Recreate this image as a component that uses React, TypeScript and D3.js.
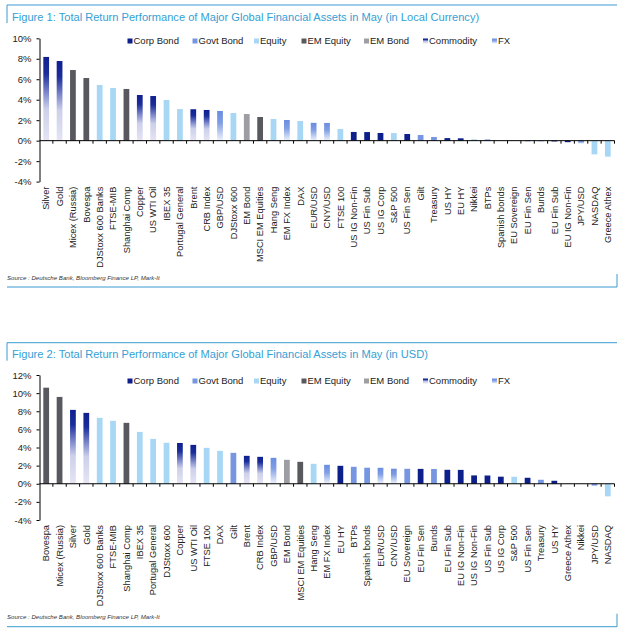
import { useEffect, useRef } from "react";
import * as d3 from "d3";

const legendItems = ["Corp Bond", "Govt Bond", "Equity", "EM Equity", "EM Bond", "Commodity", "FX"];

const fig1Title = "Figure 1: Total Return Performance of Major Global Financial Assets in May (in Local Currency)";
const fig1Names = [
  "Silver", "Gold", "Micex (Russia)", "Bovespa", "DJStoxx 600 Banks", "FTSE-MIB", "Shanghai Comp",
  "Copper", "US WTI Oil", "IBEX 35", "Portugal General", "Brent", "CRB Index", "GBP/USD",
  "DJStoxx 600", "EM Bond", "MSCI EM Equities", "Hang Seng", "EM FX Index", "DAX", "EUR/USD",
  "CNY/USD", "FTSE 100", "US IG Non-Fin", "US Fin Sub", "US IG Corp", "S&P 500", "US Fin Sen",
  "Gilt", "Treasury", "US HY", "EU HY", "Nikkei", "BTPs", "Spanish bonds", "EU Sovereign",
  "EU Fin Sen", "Bunds", "EU Fin Sub", "EU IG Non-Fin", "JPY/USD", "NASDAQ", "Greece Athex",
];
const fig1Values = [
  8.18, 7.78, 6.9, 6.12, 5.44, 5.15, 5.05,
  4.46, 4.36, 3.97, 3.09, 3.07, 3.0, 2.9,
  2.7, 2.6, 2.31, 2.12, 2.02, 1.92, 1.74,
  1.73, 1.14, 0.85, 0.84, 0.75, 0.74, 0.65,
  0.55, 0.36, 0.25, 0.23, 0.13, 0.12, 0.02, -0.02,
  -0.05, -0.06, -0.08, -0.15, -0.3, -1.34, -1.56,
];
const fig1Classes = [
  "Commodity", "Commodity", "EM Equity", "EM Equity", "Equity", "Equity", "EM Equity",
  "Commodity", "Commodity", "Equity", "Equity", "Commodity", "Commodity", "FX",
  "Equity", "EM Bond", "EM Equity", "Equity", "FX", "Equity", "FX",
  "FX", "Equity", "Corp Bond", "Corp Bond", "Corp Bond", "Equity", "Corp Bond",
  "Govt Bond", "Govt Bond", "Corp Bond", "Corp Bond", "Equity", "Govt Bond", "Govt Bond", "Govt Bond",
  "Corp Bond", "Govt Bond", "Corp Bond", "Corp Bond", "FX", "Equity", "Equity",
];
const fig1Ticks = [10, 8, 6, 4, 2, 0, -2, -4];

const fig2Title = "Figure 2: Total Return Performance of Major Global Financial Assets in May (in USD)";
const fig2Names = [
  "Bovespa", "Micex (Russia)", "Silver", "Gold", "DJStoxx 600 Banks", "FTSE-MIB", "Shanghai Comp",
  "IBEX 35", "Portugal General", "DJStoxx 600", "Copper", "US WTI Oil", "FTSE 100", "DAX",
  "Gilt", "Brent", "CRB Index", "GBP/USD", "EM Bond", "MSCI EM Equities", "Hang Seng",
  "EM FX Index", "EU HY", "BTPs", "Spanish bonds", "EUR/USD", "CNY/USD", "EU Sovereign",
  "EU Fin Sen", "Bunds", "EU Fin Sub", "EU IG Non-Fin", "US IG Non-Fin", "US Fin Sub", "US IG Corp",
  "S&P 500", "US Fin Sen", "Treasury", "US HY", "Greece Athex", "Nikkei", "JPY/USD", "NASDAQ",
];
const fig2Values = [
  10.6, 9.58, 8.15, 7.82, 7.27, 6.94, 6.72,
  5.72, 4.95, 4.52, 4.5, 4.29, 3.96, 3.63,
  3.41, 3.08, 2.97, 2.86, 2.64, 2.42, 2.2,
  2.09, 1.98, 1.87, 1.77, 1.76, 1.66, 1.65,
  1.64, 1.63, 1.54, 1.53, 0.92, 0.91, 0.78,
  0.77, 0.66, 0.44, 0.33, 0.03, -0.02, -0.29, -1.39,
];
const fig2Classes = [
  "EM Equity", "EM Equity", "Commodity", "Commodity", "Equity", "Equity", "EM Equity",
  "Equity", "Equity", "Equity", "Commodity", "Commodity", "Equity", "Equity",
  "Govt Bond", "Commodity", "Commodity", "FX", "EM Bond", "EM Equity", "Equity",
  "FX", "Corp Bond", "Govt Bond", "Govt Bond", "FX", "FX", "Govt Bond",
  "Corp Bond", "Govt Bond", "Corp Bond", "Corp Bond", "Corp Bond", "Corp Bond", "Corp Bond",
  "Equity", "Corp Bond", "Govt Bond", "Corp Bond", "Equity", "Equity", "FX", "Equity",
];
const fig2Ticks = [12, 10, 8, 6, 4, 2, 0, -2, -4];

const sourceText = "Source : Deutsche Bank, Bloomberg Finance LP, Mark-It";

const FONT = "'Liberation Sans', Arial, Helvetica, sans-serif";
const RULE = "#3a9ad0";

const fills: Record<string, string> = {
  "Corp Bond": "#0d1f8a",
  "Govt Bond": "#7796e2",
  Equity: "#a7d7f5",
  "EM Equity": "#58595f",
  "EM Bond": "#9d9da3",
  Commodity: "url(#grad-commodity)",
  FX: "url(#grad-fx)",
};

interface PanelSpec {
  title: string;
  names: string[];
  values: number[];
  classes: string[];
  ticks: number[];
  top: number;
  titleY: number;
  legendY: number;
  yTop: number;
  yBottom: number;
  sourceY: number;
  bottom: number;
}

const LEFT = 39.5;
const RIGHT = 614.5;
const legendX = [127.5, 192.5, 254, 301.5, 364, 423, 492];

function drawPanel(svg: d3.Selection<SVGSVGElement, unknown, null, undefined>, p: PanelSpec) {
  const g = svg.append("g");

  // frame
  g.append("line").attr("x1", 7).attr("x2", 617).attr("y1", p.top).attr("y2", p.top)
    .attr("stroke", RULE).attr("stroke-width", 1);
  g.append("line").attr("x1", 7).attr("x2", 7).attr("y1", p.top).attr("y2", p.top + 18)
    .attr("stroke", RULE).attr("stroke-width", 1);
  g.append("line").attr("x1", 7).attr("x2", 617).attr("y1", p.bottom).attr("y2", p.bottom)
    .attr("stroke", RULE).attr("stroke-width", 1);
  g.append("line").attr("x1", 617).attr("x2", 617).attr("y1", p.bottom - 13).attr("y2", p.bottom)
    .attr("stroke", RULE).attr("stroke-width", 1);

  g.append("text")
    .attr("x", 12).attr("y", p.titleY)
    .attr("font-size", 11.1).attr("fill", "#35a0d5")
    .text(p.title);

  // legend
  legendItems.forEach((name, i) => {
    g.append("rect")
      .attr("x", legendX[i]).attr("y", p.legendY - 2.5)
      .attr("width", 5).attr("height", 5)
      .attr("fill", fills[name]);
    g.append("text")
      .attr("x", legendX[i] + 6).attr("y", p.legendY).attr("dy", "0.35em")
      .attr("font-size", 9.5).attr("fill", "#222")
      .text(name);
  });

  const x = d3.scaleBand<string>()
    .domain(p.names)
    .range([LEFT, RIGHT])
    .paddingInner(0.57)
    .paddingOuter(0.285);

  const y = d3.scaleLinear()
    .domain([p.ticks[p.ticks.length - 1], p.ticks[0]])
    .range([p.yBottom, p.yTop]);

  g.append("g")
    .selectAll("rect")
    .data(p.names)
    .join("rect")
    .attr("x", (d) => x(d)!)
    .attr("width", x.bandwidth())
    .attr("y", (_, i) => y(Math.max(0, p.values[i])))
    .attr("height", (_, i) => Math.abs(y(p.values[i]) - y(0)))
    .attr("fill", (_, i) => fills[p.classes[i]]);

  const yAxis = g.append("g")
    .attr("transform", `translate(${LEFT},0)`)
    .call(
      d3.axisLeft(y)
        .tickValues(p.ticks)
        .tickSize(3)
        .tickSizeOuter(0)
        .tickPadding(5)
        .tickFormat((d) => `${d}%`)
    );
  yAxis.selectAll("text").attr("font-size", 9.5).attr("fill", "#222").attr("font-family", FONT);
  yAxis.selectAll("line,path").attr("stroke", "#000");

  // category axis on the zero line, ticks on band edges
  const edges = d3.scaleLinear().domain([0, p.names.length]).range([LEFT, RIGHT]);
  const xAxis = g.append("g").attr("transform", `translate(0,${y(0)})`);
  xAxis.append("line").attr("x1", LEFT).attr("x2", RIGHT).attr("stroke", "#000");
  xAxis.selectAll("line.tick")
    .data(d3.range(1, p.names.length + 1))
    .join("line")
    .attr("class", "tick")
    .attr("x1", (d) => edges(d)).attr("x2", (d) => edges(d))
    .attr("y1", 0).attr("y2", 3)
    .attr("stroke", "#000");

  g.append("g")
    .selectAll("text")
    .data(p.names)
    .join("text")
    .attr("transform", (d) => `translate(${x(d)! + x.bandwidth() / 2},${p.yBottom + 5}) rotate(-90)`)
    .attr("text-anchor", "end")
    .attr("dy", "0.35em")
    .attr("font-size", 9.3)
    .attr("fill", "#222")
    .text((d) => d);

  g.append("text")
    .attr("x", 7).attr("y", p.sourceY)
    .attr("font-size", 6.1).attr("font-style", "italic").attr("fill", "#333")
    .text(sourceText);
}

export default function App() {
  const svgRef = useRef<SVGSVGElement>(null);

  useEffect(() => {
    if (!svgRef.current) return;
    const svg = d3.select(svgRef.current);
    svg.selectAll("*").remove();

    const defs = svg.append("defs");
    const commodity = defs.append("linearGradient").attr("id", "grad-commodity")
      .attr("x1", 0).attr("y1", 0).attr("x2", 0).attr("y2", 1);
    [[0, "#0f1f8f"], [0.2, "#1a2d9b"], [0.45, "#8891d0"], [0.62, "#cdd0ea"], [1, "#e4e4f4"]].forEach(([o, c]) =>
      commodity.append("stop").attr("offset", o as number).attr("stop-color", c as string));
    const fx = defs.append("linearGradient").attr("id", "grad-fx")
      .attr("x1", 0).attr("y1", 0).attr("x2", 0).attr("y2", 1);
    [[0, "#6a8de0"], [0.4, "#809ee5"], [0.75, "#c2d0f2"], [1, "#eef2fb"]].forEach(([o, c]) =>
      fx.append("stop").attr("offset", o as number).attr("stop-color", c as string));

    drawPanel(svg, {
      title: fig1Title, names: fig1Names, values: fig1Values, classes: fig1Classes, ticks: fig1Ticks,
      top: 5, titleY: 20.5, legendY: 41, yTop: 38.3, yBottom: 181.6, sourceY: 280, bottom: 287,
    });
    drawPanel(svg, {
      title: fig2Title, names: fig2Names, values: fig2Values, classes: fig2Classes, ticks: fig2Ticks,
      top: 342.7, titleY: 357.5, legendY: 381, yTop: 375, yBottom: 520, sourceY: 618.5, bottom: 626.7,
    });
  }, []);

  return (
    <svg
      ref={svgRef}
      width={627}
      height={635}
      style={{ position: "absolute", left: 0, top: 0, background: "#fff", fontFamily: FONT }}
    />
  );
}
